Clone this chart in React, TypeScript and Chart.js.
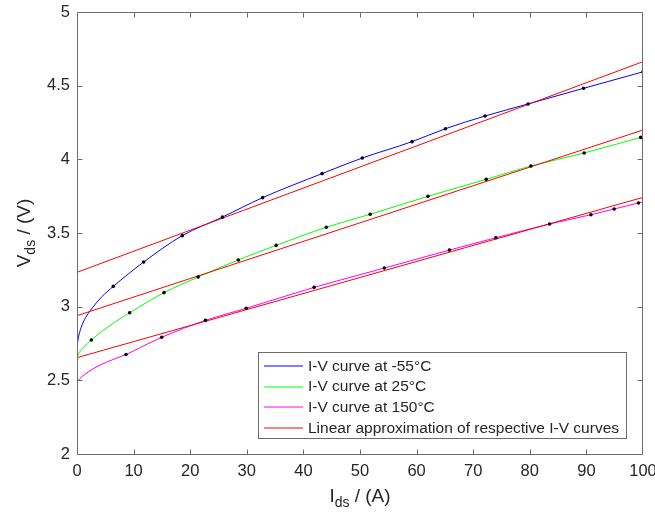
import React, { useEffect, useRef } from "react";
import { Chart, registerables } from "chart.js";

Chart.register(...registerables);

const FONT = "'Liberation Sans', Arial, Helvetica, sans-serif";

const legendLabels = [
  "I-V curve at -55°C",
  "I-V curve at 25°C",
  "I-V curve at 150°C",
  "Linear approximation of respective I-V curves",
];

const xTickValues = [0, 10, 20, 30, 40, 50, 60, 70, 80, 90, 100];
const yTickValues = [2, 2.5, 3, 3.5, 4, 4.5, 5];

// -55°C I-V curve (line)
const curveM55I = [0, 0.3, 0.9, 1.8, 2.65, 4.4, 6.42, 11.78, 18.6, 25.7, 32.8, 43.3, 50.4, 59.2, 65.1, 72.1, 79.7, 89.5, 100];
const curveM55V = [2.733, 2.8, 2.876, 2.943, 2.989, 3.068, 3.138, 3.303, 3.482, 3.608, 3.74, 3.903, 4.009, 4.12, 4.208, 4.294, 4.376, 4.482, 4.594];
// -55°C markers
const dotsM55I = [6.42, 11.78, 18.6, 25.7, 32.8, 43.3, 50.4, 59.2, 65.1, 72.1, 79.7, 89.5, 100];
const dotsM55V = [3.138, 3.303, 3.482, 3.608, 3.74, 3.903, 4.009, 4.12, 4.208, 4.294, 4.376, 4.482, 4.594];

// 25°C I-V curve (line)
const curve25I = [0, 0.4, 1.2, 2.53, 4.6, 6.8, 9.3, 15.37, 21.4, 28.5, 35.2, 44.05, 51.8, 62.0, 72.3, 80.2, 89.6, 99.6, 100];
const curve25V = [2.655, 2.688, 2.727, 2.774, 2.838, 2.898, 2.959, 3.095, 3.201, 3.317, 3.416, 3.539, 3.627, 3.749, 3.864, 3.955, 4.043, 4.149, 4.153];
// 25°C markers
const dots25I = [2.53, 9.3, 15.37, 21.4, 28.5, 35.2, 44.05, 51.8, 62.0, 72.3, 80.2, 89.6, 99.6];
const dots25V = [2.774, 2.959, 3.095, 3.201, 3.317, 3.416, 3.539, 3.627, 3.749, 3.864, 3.955, 4.043, 4.149];

// 150°C I-V curve (line)
const curve150I = [0, 0.5, 1.24, 3.0, 5.36, 8.66, 11.25, 14.96, 22.7, 29.9, 41.9, 54.3, 65.8, 74.0, 83.5, 90.8, 94.9, 99.2, 100];
const curve150V = [2.486, 2.512, 2.536, 2.582, 2.626, 2.675, 2.724, 2.792, 2.907, 2.989, 3.131, 3.262, 3.384, 3.468, 3.561, 3.624, 3.663, 3.704, 3.711];
// 150°C markers
const dots150I = [8.66, 14.96, 22.7, 29.9, 41.9, 54.3, 65.8, 74.0, 83.5, 90.8, 94.9, 99.2];
const dots150V = [2.675, 2.792, 2.907, 2.989, 3.131, 3.262, 3.384, 3.468, 3.561, 3.624, 3.663, 3.704];

// Linear approximations
const linearI = [0, 100];
const linearM55V = [3.233, 4.663];
const linear25V = [2.939, 4.199];
const linear150V = [2.654, 3.742];

const BLUE = "#0000ff";
const GREEN = "#00ff00";
const MAGENTA = "#ff00ff";
const RED = "#ff0000";
const TEXT = "#262626";
const AXIS = "#6b6b6b";

const toPts = (xs: number[], ys: number[]) => xs.map((x, i) => ({ x, y: ys[i] }));

const axesPlugin = {
  id: "matlabAxes",
  afterDatasetsDraw(chart: any) {
    const { ctx, chartArea, scales } = chart;
    const { left, right, top, bottom } = chartArea;
    const L = Math.round(left) + 0.5;
    const R = Math.round(right) - 0.5;
    const T = Math.round(top) + 0.5;
    const B = Math.round(bottom) + 0.5;
    ctx.save();
    ctx.strokeStyle = AXIS;
    ctx.lineWidth = 1;
    ctx.beginPath();
    ctx.moveTo(L, T);
    ctx.lineTo(R, T);
    ctx.lineTo(R, B);
    ctx.lineTo(L, B);
    ctx.closePath();
    const tl = 5;
    xTickValues.slice(1, -1).forEach((v) => {
      const px = Math.round(scales.x.getPixelForValue(v)) + 0.5;
      ctx.moveTo(px, B);
      ctx.lineTo(px, B - tl);
      ctx.moveTo(px, T);
      ctx.lineTo(px, T + tl);
    });
    yTickValues.slice(1, -1).forEach((v) => {
      const py = Math.round(scales.y.getPixelForValue(v)) + 0.5;
      ctx.moveTo(L, py);
      ctx.lineTo(L + tl, py);
      ctx.moveTo(R, py);
      ctx.lineTo(R - tl, py);
    });
    ctx.stroke();
    ctx.restore();
  },
};

function drawSubTitle(ctx: CanvasRenderingContext2D, main: string, sub: string, rest: string) {
  const big = `19px ${FONT}`;
  const small = `14px ${FONT}`;
  ctx.font = big;
  const w1 = ctx.measureText(main).width;
  const w3 = ctx.measureText(rest).width;
  ctx.font = small;
  const w2 = ctx.measureText(sub).width;
  const total = w1 + w2 + w3;
  let x = -total / 2;
  ctx.textBaseline = "alphabetic";
  ctx.textAlign = "left";
  ctx.font = big;
  ctx.fillText(main, x, 0);
  x += w1;
  ctx.font = small;
  ctx.fillText(sub, x, 5);
  x += w2;
  ctx.font = big;
  ctx.fillText(rest, x, 0);
}

const titlesPlugin = {
  id: "axisTitles",
  afterDraw(chart: any) {
    const { ctx, chartArea } = chart;
    const cx = (chartArea.left + chartArea.right) / 2;
    const cy = (chartArea.top + chartArea.bottom) / 2;
    ctx.save();
    ctx.fillStyle = TEXT;
    ctx.translate(cx, chartArea.bottom + 48);
    drawSubTitle(ctx, "I", "ds", " / (A)");
    ctx.restore();
    ctx.save();
    ctx.fillStyle = TEXT;
    ctx.translate(30, cy);
    ctx.rotate(-Math.PI / 2);
    drawSubTitle(ctx, "V", "ds", " / (V)");
    ctx.restore();
  },
};

const legendPlugin = {
  id: "insideLegend",
  afterDraw(chart: any) {
    const { ctx, chartArea } = chart;
    const colors = [BLUE, GREEN, MAGENTA, RED];
    const boxL = chartArea.left + 181.5;
    const boxT = chartArea.top + 340.5;
    const boxW = 368;
    const boxH = 86;
    ctx.save();
    ctx.fillStyle = "#ffffff";
    ctx.fillRect(boxL, boxT, boxW, boxH);
    ctx.strokeStyle = AXIS;
    ctx.lineWidth = 1;
    ctx.strokeRect(boxL, boxT, boxW, boxH);
    ctx.font = `15.5px ${FONT}`;
    ctx.textBaseline = "middle";
    ctx.textAlign = "left";
    legendLabels.forEach((label, i) => {
      const y = boxT + 13.5 + i * 20.6;
      ctx.strokeStyle = colors[i];
      ctx.lineWidth = 1;
      ctx.beginPath();
      ctx.moveTo(boxL + 5.5, Math.round(y));
      ctx.lineTo(boxL + 44.5, Math.round(y));
      ctx.stroke();
      ctx.fillStyle = TEXT;
      ctx.fillText(label, boxL + 49.5, y + 0.5);
    });
    ctx.restore();
  },
};

const zeroPadding = (s: any) => {
  s.paddingLeft = 0;
  s.paddingRight = 0;
  s.paddingTop = 0;
  s.paddingBottom = 0;
};

export default function App() {
  const ref = useRef<HTMLCanvasElement | null>(null);

  useEffect(() => {
    document.body.style.margin = "0";
    const canvas = ref.current;
    if (!canvas) return;

    const curve = (label: string, xs: number[], ys: number[], color: string) => ({
      type: "line" as const,
      label,
      data: toPts(xs, ys),
      borderColor: color,
      backgroundColor: color,
      borderWidth: 1,
      pointRadius: 0,
      cubicInterpolationMode: "monotone" as const,
      fill: false,
      order: 3,
    });
    const linear = (label: string, ys: number[]) => ({
      type: "line" as const,
      label,
      data: toPts(linearI, ys),
      borderColor: RED,
      backgroundColor: RED,
      borderWidth: 1,
      pointRadius: 0,
      tension: 0,
      fill: false,
      order: 2,
    });
    const dots = (label: string, xs: number[], ys: number[]) => ({
      type: "line" as const,
      label,
      data: toPts(xs, ys),
      showLine: false,
      borderColor: "#000000",
      backgroundColor: "#000000",
      pointRadius: 1.8,
      pointBorderWidth: 0,
      order: 1,
    });

    const chart = new Chart(canvas, {
      type: "line",
      data: {
        datasets: [
          curve(legendLabels[0], curveM55I, curveM55V, BLUE),
          curve(legendLabels[1], curve25I, curve25V, GREEN),
          curve(legendLabels[2], curve150I, curve150V, MAGENTA),
          linear(legendLabels[3], linearM55V),
          linear(legendLabels[3], linear25V),
          linear(legendLabels[3], linear150V),
          dots("-55 points", dotsM55I, dotsM55V),
          dots("25 points", dots25I, dots25V),
          dots("150 points", dots150I, dots150V),
        ] as any,
      },
      options: {
        animation: false,
        responsive: false,
        devicePixelRatio: 1,
        layout: { padding: { left: 0, right: 12, top: 12, bottom: 0 } },
        plugins: {
          legend: { display: false },
          tooltip: { enabled: false },
        },
        scales: {
          x: {
            type: "linear",
            min: 0,
            max: 100,
            afterBuildTicks: (s: any) => {
              s.ticks = xTickValues.map((v) => ({ value: v }));
            },
            afterFit: (s: any) => {
              s.height = 60;
              zeroPadding(s);
            },
            grid: { display: false, drawTicks: false },
            border: { display: false },
            ticks: {
              padding: 8,
              color: TEXT,
              font: { family: FONT, size: 16.5 },
              maxRotation: 0,
              autoSkip: false,
              callback: (v: any) => String(v),
            },
          },
          y: {
            type: "linear",
            min: 2,
            max: 5,
            afterBuildTicks: (s: any) => {
              s.ticks = yTickValues.map((v) => ({ value: v }));
            },
            afterFit: (s: any) => {
              s.width = 77;
              zeroPadding(s);
            },
            grid: { display: false, drawTicks: false },
            border: { display: false },
            ticks: {
              padding: 7,
              color: TEXT,
              font: { family: FONT, size: 16.5 },
              autoSkip: false,
              callback: (v: any) => String(v),
            },
          },
        },
      } as any,
      plugins: [axesPlugin, titlesPlugin, legendPlugin],
    });

    return () => chart.destroy();
  }, []);

  return (
    <canvas
      ref={ref}
      width={655}
      height={514}
      style={{ display: "block", width: "655px", height: "514px" }}
    />
  );
}
